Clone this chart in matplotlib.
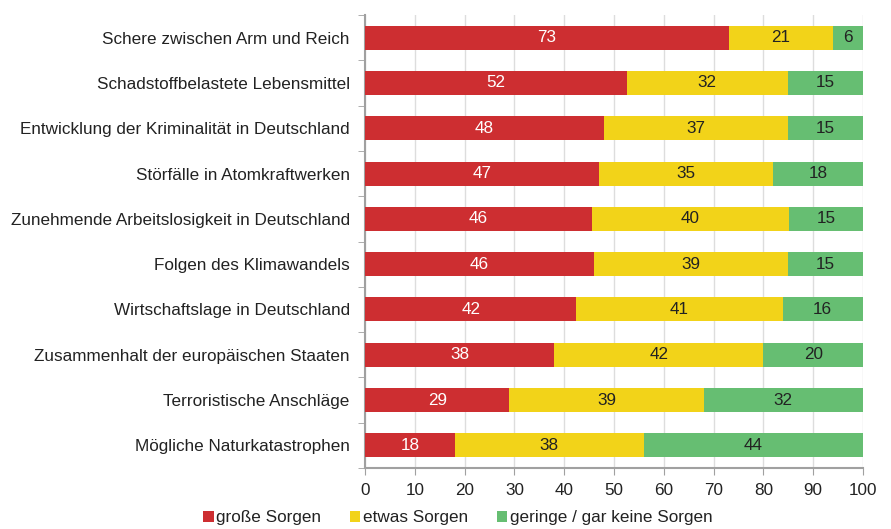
import matplotlib
matplotlib.use('Agg')
import matplotlib.pyplot as plt
import numpy as np

plt.rcParams['font.family'] = ['Liberation Sans', 'DejaVu Sans']

categories = ['Schere zwischen Arm und Reich', 'Schadstoffbelastete Lebensmittel',
              'Entwicklung der Kriminalität in Deutschland', 'Störfälle in Atomkraftwerken',
              'Zunehmende Arbeitslosigkeit in Deutschland', 'Folgen des Klimawandels',
              'Wirtschaftslage in Deutschland', 'Zusammenhalt der europäischen Staaten',
              'Terroristische Anschläge', 'Mögliche Naturkatastrophen']
grosse = [73, 52, 48, 47, 46, 46, 42, 38, 29, 18]
etwas = [21, 32, 37, 35, 40, 39, 41, 42, 39, 38]
geringe = [6, 15, 15, 18, 15, 15, 16, 20, 32, 44]
series_names = ['große Sorgen', 'etwas Sorgen', 'geringe / gar keine Sorgen']
colors = ['#CD2E31', '#F2D319', '#66BE72']
text_colors = ['white', '#222222', '#222222']

data = np.array([grosse, etwas, geringe], dtype=float)
shares = data / data.sum(axis=0) * 100  # bars run to 100 %

fs = 12.3
fig = plt.figure(figsize=(8.91, 5.29), dpi=100)
ax = fig.add_axes([365/891, 1-468/529, 498/891, 453/529])

y = np.arange(len(categories))
left = np.zeros(len(categories))
for k in range(3):
    bars = ax.barh(y, shares[k], left=left, height=0.53, color=colors[k],
                   label=series_names[k], zorder=3)
    for i, b in enumerate(bars):
        ax.text(left[i] + shares[k][i]/2, y[i], str(int(data[k][i])),
                ha='center', va='center', fontsize=fs, color=text_colors[k], zorder=4)
    left += shares[k]

ax.set_ylim(len(categories) - 0.5, -0.5)
ax.set_xlim(0, 100)
ax.set_yticks(y)
ax.set_yticklabels(categories, fontsize=fs, color='#222222')
ax.tick_params(axis='y', length=0, pad=11)
ax.set_yticks(np.arange(-0.5, len(categories)), minor=True)
ax.tick_params(axis='y', which='minor', length=5, color='#A0A0A0', direction='out')
ax.set_xticks(np.arange(0, 101, 10))
ax.tick_params(axis='x', length=5, color='#A0A0A0', labelsize=fs, labelcolor='#222222', pad=6)
ax.grid(axis='x', color='#DDDDDD', lw=1, zorder=0)
for s in ['top', 'right']:
    ax.spines[s].set_visible(False)
for s in ['left', 'bottom']:
    ax.spines[s].set_color('#A0A0A0')
    ax.spines[s].set_linewidth(1.5)

fig.legend(loc='lower left', bbox_to_anchor=(188/891, -0.022), ncol=3, frameon=False,
           fontsize=fs, handlelength=0.6, handleheight=0.6, handletextpad=0.15,
           columnspacing=1.7, labelcolor='#222222')

plt.savefig('out.png', dpi=100)
